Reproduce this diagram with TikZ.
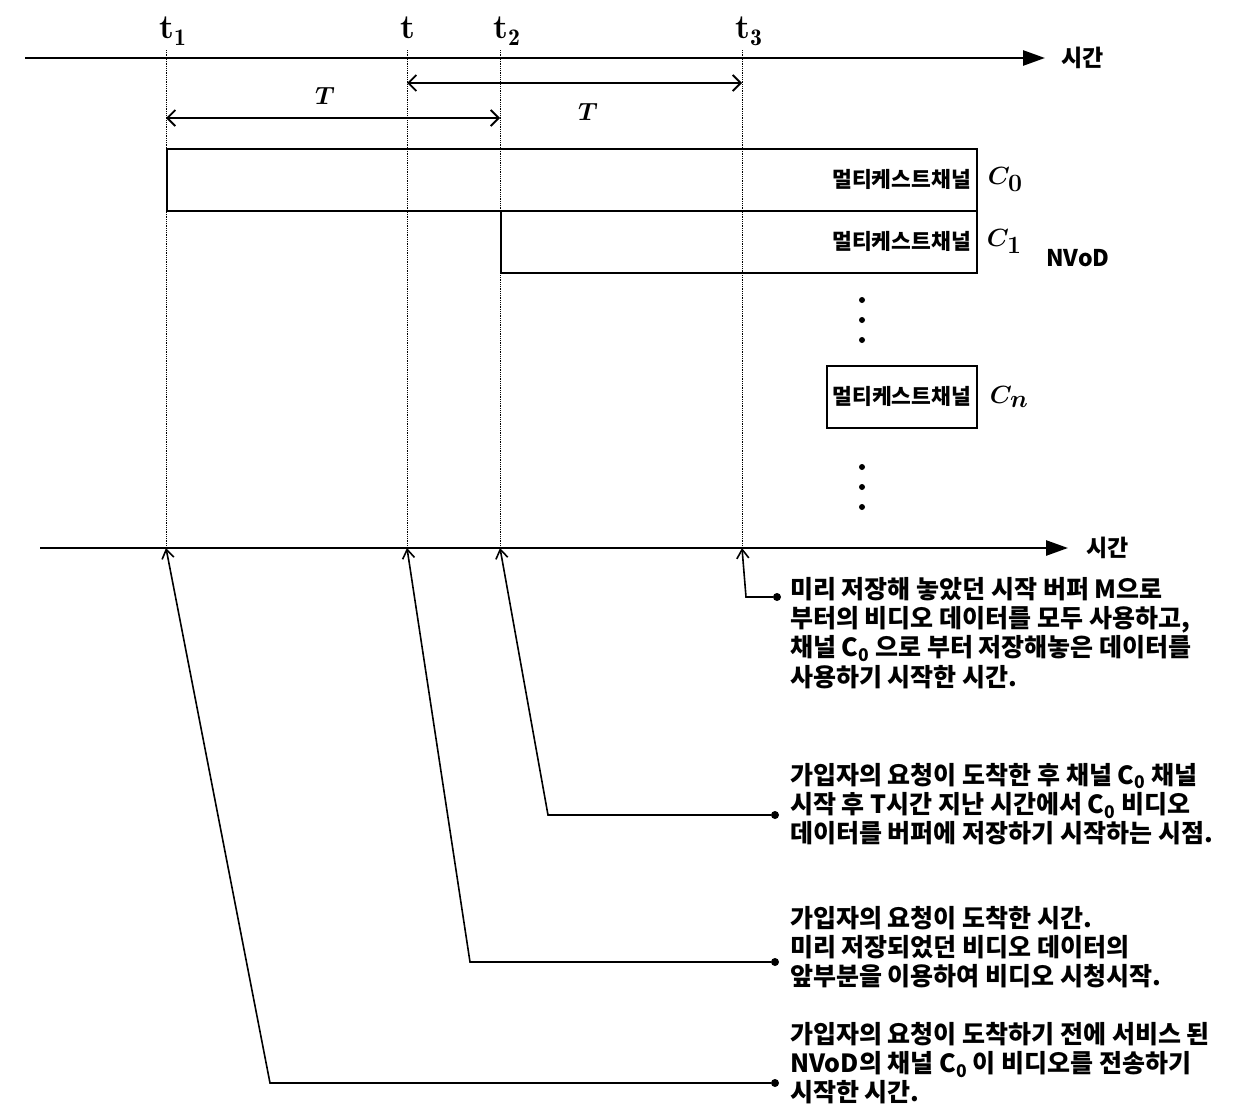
\documentclass[tikz,border=0pt]{standalone}
\usepackage{fontspec}
\newfontfamily\kr{Noto Sans CJK KR}
\usetikzlibrary{positioning,arrows.meta}

\begin{document}
\begin{tikzpicture}[x=1pt,y=-1pt,
  axis/.style={line width=2.6pt,-{Triangle[length=22pt,width=15pt]}},
  guide/.style={densely dotted,line width=0.8pt},
  span/.style={line width=1.8pt,{Straight Barb[length=8pt,width=16pt]}-{Straight Barb[length=8pt,width=16pt]}},
  lead/.style={line width=1.6pt,{Straight Barb[length=9pt,width=12pt]}-},
  chan/.style={draw,line width=1.6pt,minimum height=62pt,inner xsep=6pt,align=right,font=\kr\bfseries\fontsize{21.5}{22}\selectfont},
  clab/.style={inner sep=0pt,font=\boldmath\fontsize{34}{34}\selectfont},
  timelab/.style={anchor=base west,inner sep=0pt,font=\bfseries\fontsize{34}{34}\selectfont},
  word/.style={inner sep=0pt,font=\kr\bfseries\fontsize{23}{23}\selectfont},
  note/.style={anchor=north west,inner sep=0pt,align=left,font=\kr\bfseries\fontsize{25}{29.3}\selectfont},
  enddot/.style={circle,fill,inner sep=0pt,minimum size=8pt}]
\useasboundingbox (0,0) rectangle (1244,1119);

% time axes
\coordinate (a0) at (25,58);
\coordinate (a1) at (1045,58);
\coordinate (z0) at (40,548);
\coordinate (z1) at (1068,548);
\draw[axis] (a0) -- (a1);
\draw[axis] (z0) -- (z1);
\node[word,right=16pt of a1] (time1) {시간};
\node[word,right=18pt of z1] (time2) {시간};

% time marks and guides
\foreach \n/\x/\lab in {1/166/{t$_{\mathbf 1}$},2/407/t,3/500/{t$_{\mathbf 2}$},4/742/{t$_{\mathbf 3}$}}{
  \node[timelab] (t\n) at (\x-7,38) {\lab};
  \coordinate (g\n) at (\x,50);
  \coordinate (b\n) at (\x,548);
  \draw[guide] (g\n) -- (b\n);
}

% periods
\coordinate (s1) at (166,118);
\coordinate (s2) at (500,118);
\coordinate (s3) at (407,83);
\coordinate (s4) at (742,83);
\draw[span] (s3) -- (s4);
\draw[span] (s1) -- (s2);
\node[clab] (per1) at (325,96) {$T$};
\node[clab] (per2) at (588,112) {$T$};

% channels
\node[chan,anchor=north west,text width=798pt] (c0) at (166,148) {멀티케스트채널};
\node[chan,anchor=north west,text width=464pt] (c1) at (500,210) {멀티케스트채널};
\node[chan,anchor=north west,minimum width=150pt,inner xsep=4pt] (cn) at (826,365) {멀티케스트채널};
\node[clab,right=10pt of c0.east] (lc0) {$C_0$};
\node[clab,right=9pt of c1.east] (lc1) {$C_1$};
\node[clab,right=12pt of cn.east] (lcn) {$C_n$};
\node[word,anchor=west] (nvod) at (1046,258) {NVoD};
\foreach \y in {300,320,340,467,487,507}
  \fill (862,\y) circle (3pt);

% leaders
\node[enddot] (e1) at (777,597) {};
\node[enddot] (e2) at (775,815) {};
\node[enddot] (e3) at (775,962) {};
\node[enddot] (e4) at (775,1083) {};
\coordinate (k1) at (746,597);
\coordinate (k2) at (548,815);
\coordinate (k3) at (470,962);
\coordinate (k4) at (270,1083);
\draw[lead] (b4) -- (k1) -- (e1);
\draw[lead] (b3) -- (k2) -- (e2);
\draw[lead] (b2) -- (k3) -- (e3);
\draw[lead] (b1) -- (k4) -- (e4);

\node[note] (n1) at (790,577) {미리 저장해 놓았던 시작 버퍼 M으로\\부터의 비디오 데이터를 모두 사용하고,\\채널 C\textsubscript{0} 으로 부터 저장해놓은 데이터를\\사용하기 시작한 시간.};
\node[note] (n2) at (790,763) {가입자의 요청이 도착한 후 채널 C\textsubscript{0} 채널\\시작 후 T시간 지난 시간에서 C\textsubscript{0} 비디오\\데이터를 버퍼에 저장하기 시작하는 시점.};
\node[note] (n3) at (790,906) {가입자의 요청이 도착한 시간.\\미리 저장되었던 비디오 데이터의\\앞부분을 이용하여 비디오 시청시작.};
\node[note] (n4) at (790,1022) {가입자의 요청이 도착하기 전에 서비스 된\\NVoD의 채널 C\textsubscript{0} 이 비디오를 전송하기\\시작한 시간.};
\end{tikzpicture}
\end{document}
